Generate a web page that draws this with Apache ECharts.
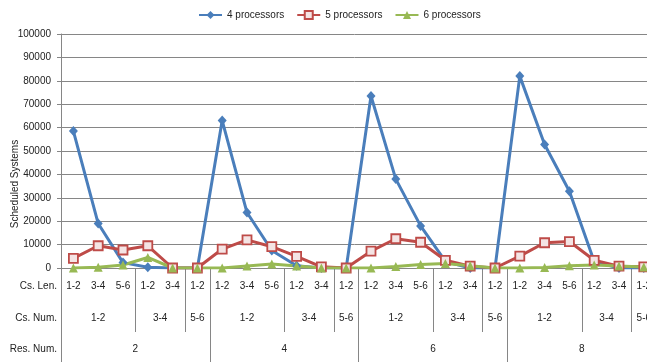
<!DOCTYPE html>
<html>
<head>
<meta charset="utf-8">
<script src="https://cdn.jsdelivr.net/npm/echarts@6/dist/echarts.min.js"></script>
<style>
  html, body { margin: 0; padding: 0; background: #fff; }
  #chart { width: 647px; height: 362px; }
</style>
</head>
<body>
<div id="chart"></div>
<script>
// Hierarchical categories: Res. Num. > Cs. Num. > Cs. Len.
const resNums = ['2', '4', '6', '8'];
const csNums = ['1-2', '3-4', '5-6'];
const csLensPerNum = [['1-2', '3-4', '5-6'], ['1-2', '3-4'], ['1-2']];

// Scheduled systems per processor count (one value per leaf category)
const proc4 = [58500, 19000, 2300, 300, 0, 0,
               63000, 23700, 7500, 1000, 0, 0,
               73500, 38000, 18000, 2800, 0, 0,
               82000, 52800, 32800, 2800, 0, 0];
const proc5 = [4100, 9500, 7700, 9500, 0, 0,
               8100, 12000, 9100, 5000, 500, 0,
               7200, 12500, 11000, 3300, 800, 0,
               5100, 10800, 11300, 3300, 800, 500];
const proc6 = [0, 300, 1300, 4500, 0, 0,
               0, 900, 1700, 900, 0, 0,
               0, 600, 1500, 1900, 1000, 0,
               0, 200, 1000, 1300, 900, 400];

const seriesNames = ['4 processors', '5 processors', '6 processors'];
const yTicks = [0, 10000, 20000, 30000, 40000, 50000, 60000, 70000, 80000, 90000, 100000];

// Build the leaf labels and group boundaries / centres from the hierarchy
const leafLabels = [];
const numTicks = [], numCentres = {}, resTicks = [], resCentres = {};
let pos = 0;
resNums.forEach(function (r) {
  const resStart = pos;
  resTicks.push(pos);
  csNums.forEach(function (n, ni) {
    const start = pos;
    numTicks.push(pos);
    csLensPerNum[ni].forEach(function (l) { leafLabels.push(l); pos++; });
    numCentres[((start + pos) / 2).toFixed(1)] = n;
  });
  resCentres[((resStart + pos) / 2).toFixed(1)] = r;
});
numTicks.push(pos);
resTicks.push(pos);

const FONT = 'Liberation Sans';
const GRAY = '#868686';
const TEXT = '#222';

const chart = echarts.init(document.getElementById('chart'));
chart.setOption({
  animation: false,
  backgroundColor: '#fff',
  textStyle: { fontFamily: FONT },
  grid: {
    left: 61, top: 34, width: 24 * 24.8, height: 234,
    containLabel: false, outerBoundsMode: 'none'
  },
  legend: {
    data: seriesNames,
    left: 193, top: 5,
    itemWidth: 23, itemHeight: 10, itemGap: 12,
    textStyle: { fontFamily: FONT, fontSize: 10, color: TEXT }
  },
  xAxis: [
    {
      type: 'category', data: leafLabels, boundaryGap: true, position: 'bottom',
      axisLine: { lineStyle: { color: GRAY, width: 1 } },
      axisTick: { interval: 0, length: 32, lineStyle: { color: GRAY } },
      axisLabel: { interval: 0, margin: 13, fontSize: 10, color: TEXT, fontFamily: FONT },
      splitLine: { show: false }
    },
    {
      type: 'value', min: 0, max: leafLabels.length, position: 'bottom',
      axisLine: { show: false },
      splitLine: { show: false },
      axisTick: { show: true, customValues: numTicks, length: 64, lineStyle: { color: GRAY } },
      axisLabel: {
        customValues: Object.keys(numCentres).map(Number), margin: 45,
        fontSize: 10, color: TEXT, fontFamily: FONT,
        formatter: function (v) { return numCentres[v.toFixed(1)] || ''; }
      }
    },
    {
      type: 'value', min: 0, max: leafLabels.length, position: 'bottom',
      axisLine: { show: false },
      splitLine: { show: false },
      axisTick: { show: true, customValues: resTicks, length: 96, lineStyle: { color: GRAY } },
      axisLabel: {
        customValues: Object.keys(resCentres).map(Number), margin: 76,
        fontSize: 10, color: TEXT, fontFamily: FONT,
        formatter: function (v) { return resCentres[v.toFixed(1)] || ''; }
      }
    }
  ],
  yAxis: {
    type: 'value', min: yTicks[0], max: yTicks[yTicks.length - 1], interval: yTicks[1] - yTicks[0],
    axisLine: { show: true, lineStyle: { color: GRAY, width: 1 } },
    axisTick: { show: true, length: 4, lineStyle: { color: GRAY } },
    axisLabel: { margin: 10, fontSize: 10, color: TEXT, fontFamily: FONT,
                 formatter: function (v) { return String(v); } },
    splitLine: { show: true, lineStyle: { color: GRAY, width: 1 } }
  },
  graphic: [
    { type: 'text', x: 15, y: 184, rotation: Math.PI / 2,
      style: { text: 'Scheduled Systems', fontSize: 10, fontFamily: FONT, fill: TEXT,
               textAlign: 'center', textVerticalAlign: 'middle' } },
    { type: 'text', x: 57, y: 286,
      style: { text: 'Cs. Len.', fontSize: 10, fontFamily: FONT, fill: TEXT,
               textAlign: 'right', textVerticalAlign: 'middle' } },
    { type: 'text', x: 57, y: 318,
      style: { text: 'Cs. Num.', fontSize: 10, fontFamily: FONT, fill: TEXT,
               textAlign: 'right', textVerticalAlign: 'middle' } },
    { type: 'text', x: 57, y: 349,
      style: { text: 'Res. Num.', fontSize: 10, fontFamily: FONT, fill: TEXT,
               textAlign: 'right', textVerticalAlign: 'middle' } }
  ],
  series: [
    {
      name: seriesNames[0], type: 'line', data: proc4, xAxisIndex: 0,
      symbol: 'diamond', symbolSize: [9, 10], showSymbol: true,
      lineStyle: { color: '#4A7EBB', width: 3 },
      itemStyle: { color: '#4A7EBB' }
    },
    {
      name: seriesNames[1], type: 'line', data: proc5, xAxisIndex: 0,
      symbol: 'rect', symbolSize: 9, showSymbol: true,
      lineStyle: { color: '#BE4B48', width: 3 },
      itemStyle: { color: '#f4e4e4', borderColor: '#BE4B48', borderWidth: 1.8 }
    },
    {
      name: seriesNames[2], type: 'line', data: proc6, xAxisIndex: 0,
      symbol: 'triangle', symbolSize: 9, showSymbol: true,
      lineStyle: { color: '#98B954', width: 3 },
      itemStyle: { color: '#98B954' }
    }
  ]
});
</script>
</body>
</html>
